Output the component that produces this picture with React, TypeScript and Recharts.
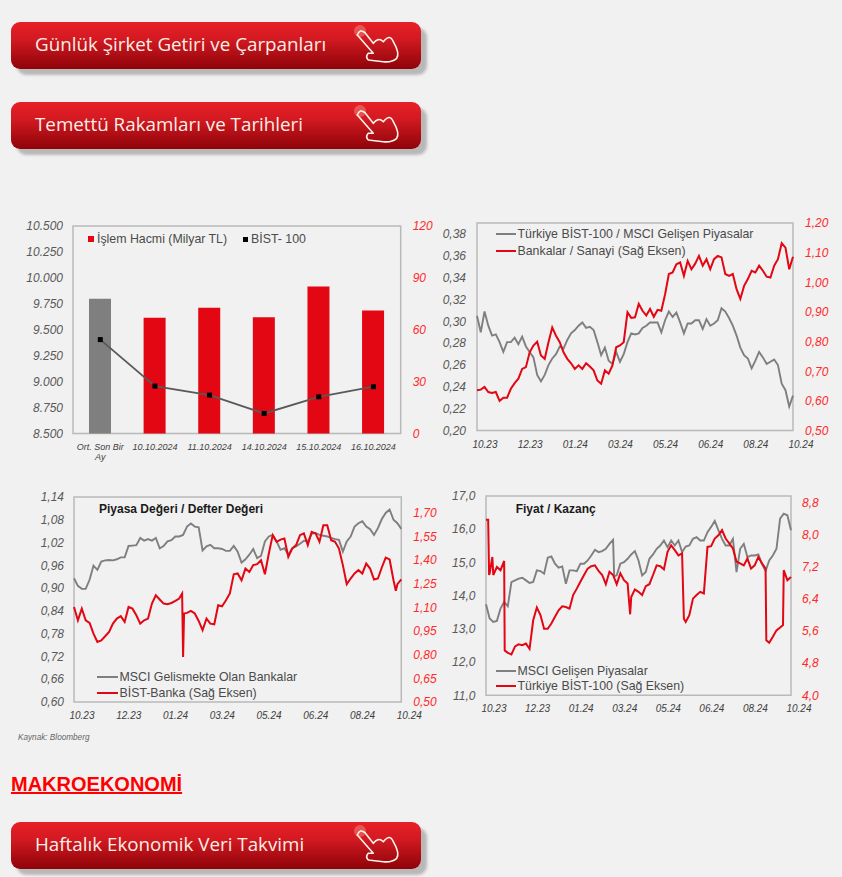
import { Bar, Cell, ComposedChart, Line, LineChart, ReferenceArea, XAxis, YAxis } from "recharts"

const ARIAL = "'Liberation Sans', Arial, sans-serif"
const GREY = "#7f7f7f"
const RED = "#e30613"
const TICK_RED = "#ff2a2a"
const TEXT = "#4a4a4a"
const FRAME = "#b9b9b9"

/* ── Data ── */
const volumeDays = ["Ort. Son Bir Ay", "10.10.2024", "11.10.2024", "14.10.2024", "15.10.2024", "16.10.2024"]
const volume = [77.9, 66.9, 72.7, 67.2, 85.0, 71.1]
const bist100 = [9405, 8957, 8870, 8693, 8854, 8951]
const volumeLeftTicks = [8500, 8750, 9000, 9250, 9500, 9750, 10000, 10250, 10500]
const volumeRightTicks = [0, 30, 60, 90, 120]

const months = ["10.23", "12.23", "01.24", "03.24", "05.24", "06.24", "08.24", "10.24"]
const monthTicks = [0, 12, 24, 36, 48, 60, 72, 84]

const ratioBist = [
  0.305, 0.290, 0.309, 0.296, 0.287, 0.288, 0.281, 0.272, 0.281, 0.281, 0.285, 0.279, 0.286, 0.277, 0.272,
  0.267, 0.251, 0.245, 0.251, 0.260, 0.266, 0.270, 0.277, 0.275, 0.283, 0.289, 0.292, 0.296, 0.299, 0.294,
  0.295, 0.292, 0.281, 0.269, 0.276, 0.264, 0.261, 0.272, 0.263, 0.270, 0.281, 0.289, 0.288, 0.289, 0.294,
  0.296, 0.299, 0.299, 0.299, 0.290, 0.301, 0.309, 0.304, 0.308, 0.299, 0.289, 0.298, 0.298, 0.301, 0.301,
  0.293, 0.302, 0.296, 0.298, 0.301, 0.312, 0.309, 0.303, 0.296, 0.287, 0.276, 0.269, 0.266, 0.257, 0.264,
  0.272, 0.267, 0.261, 0.263, 0.265, 0.260, 0.243, 0.237, 0.222, 0.232,
]
const ratioBanks = [
  0.636, 0.638, 0.647, 0.630, 0.627, 0.630, 0.600, 0.611, 0.611, 0.641, 0.660, 0.675, 0.708, 0.714, 0.764,
  0.787, 0.800, 0.753, 0.742, 0.798, 0.848, 0.820, 0.798, 0.764, 0.742, 0.727, 0.708, 0.720, 0.708, 0.727,
  0.716, 0.703, 0.669, 0.658, 0.703, 0.692, 0.720, 0.781, 0.787, 0.798, 0.899, 0.880, 0.882, 0.927, 0.904,
  0.888, 0.910, 0.884, 0.907, 0.904, 0.960, 1.028, 1.033, 1.061, 1.067, 1.022, 1.072, 1.044, 1.063, 1.089,
  1.056, 1.078, 1.044, 1.078, 1.089, 1.084, 1.028, 1.022, 1.028, 0.977, 0.944, 0.988, 1.011, 1.039, 1.033,
  1.056, 1.039, 1.019, 1.016, 1.056, 1.078, 1.132, 1.117, 1.044, 1.086,
]

const pbMsci = [
  0.926, 0.906, 0.898, 0.898, 0.922, 0.959, 0.948, 0.970, 0.973, 0.974, 0.973, 0.976, 0.981, 0.981, 1.011,
  1.012, 1.013, 1.032, 1.025, 1.029, 1.025, 1.032, 1.005, 1.011, 1.023, 1.026, 1.036, 1.036, 1.040, 1.062,
  1.070, 1.062, 1.060, 0.999, 1.010, 1.014, 1.005, 1.005, 1.003, 0.998, 0.998, 1.011, 0.996, 0.967, 0.976,
  0.988, 1.003, 0.979, 0.985, 1.023, 1.036, 1.040, 1.023, 1.001, 1.005, 0.988, 1.005, 1.010, 1.017, 1.025,
  1.023, 1.043, 1.045, 1.040, 1.038, 1.036, 1.032, 1.029, 1.027, 0.996, 1.023, 1.036, 1.062, 1.071, 1.076,
  1.062, 1.055, 1.040, 1.058, 1.082, 1.098, 1.107, 1.080, 1.071, 1.056,
]
const pbBanks = [
  1.103, 1.018, 1.092, 1.018, 1.001, 0.934, 0.881, 0.891, 0.917, 0.944, 0.997, 1.029, 1.044, 1.008, 1.103,
  1.092, 1.050, 0.997, 1.018, 1.029, 1.124, 1.177, 1.150, 1.124, 1.120, 1.128, 1.141, 1.156, 0.786, 1.065,
  1.078, 1.061, 1.014, 0.955, 1.029, 0.997, 0.993, 1.114, 1.107, 1.145, 1.188, 1.310, 1.315, 1.272, 1.346,
  1.325, 1.368, 1.374, 1.399, 1.310, 1.442, 1.558, 1.516, 1.530, 1.537, 1.420, 1.473, 1.495, 1.558, 1.569,
  1.495, 1.579, 1.569, 1.516, 1.621, 1.621, 1.526, 1.516, 1.473, 1.368, 1.247, 1.283, 1.315, 1.336, 1.315,
  1.378, 1.346, 1.277, 1.283, 1.353, 1.416, 1.404, 1.272, 1.247, 1.277,
]
const pbBanksExtra: [number, number][] = [[27.75, 1.188], [28.25, 1.061], [82.6, 1.205]]

const peMsci = [
  13.74, 13.31, 13.21, 13.24, 13.61, 13.81, 13.68, 14.41, 14.46, 14.51, 14.54, 14.46, 14.38, 14.41, 14.76,
  14.74, 14.66, 15.14, 15.18, 14.96, 14.84, 14.88, 14.36, 14.76, 14.76, 14.74, 14.96, 14.96, 15.06, 15.21,
  15.38, 15.31, 15.34, 15.41, 15.56, 15.68, 14.61, 14.96, 15.01, 15.11, 15.24, 15.34, 15.06, 14.61, 14.71,
  15.11, 15.24, 15.41, 15.51, 15.66, 15.46, 15.66, 15.51, 15.66, 15.31, 15.48, 15.51, 15.71, 15.76, 15.66,
  15.66, 15.91, 16.07, 16.25, 15.97, 15.71, 15.51, 15.51, 15.71, 14.71, 15.41, 15.56, 15.16, 15.21, 15.21,
  15.24, 14.96, 14.74, 15.06, 15.21, 15.41, 16.32, 16.47, 16.42, 15.97,
]
const peMsciExtra: [number, number][] = [[35.3, 14.58]]
const peBist = [
  8.38, 7.04, 7.00, 7.20, 7.12, 7.35, 5.06, 5.02, 5.22, 5.27, 5.25, 5.29, 5.16, 5.87, 6.19,
  6.00, 5.66, 5.66, 5.79, 5.96, 6.12, 6.22, 6.20, 6.16, 6.50, 6.66, 6.83, 7.00, 7.16, 7.22,
  7.24, 7.10, 7.00, 6.77, 7.08, 7.00, 6.77, 7.04, 6.87, 6.79, 6.45, 6.64, 6.58, 6.50, 6.72,
  6.77, 7.00, 7.24, 7.22, 7.14, 7.58, 7.74, 7.62, 7.49, 7.54, 5.83, 6.00, 6.41, 6.50, 6.58,
  6.54, 7.70, 7.72, 7.91, 7.99, 8.12, 7.91, 7.79, 7.66, 7.33, 7.29, 7.24, 7.41, 7.16, 7.24,
  7.45, 7.29, 7.16, 5.31, 5.46, 5.62, 5.69, 7.12, 6.87, 6.95,
]
const peBistExtra: [number, number][] = [
  [0.6, 8.38], [0.85, 7.00], [1.75, 7.45], [5.15, 5.12], [39.7, 6.02], [54.5, 5.91], [77.2, 5.37], [81.8, 5.75],
]

const ratioLeftTicks = [0.20, 0.22, 0.24, 0.26, 0.28, 0.30, 0.32, 0.34, 0.36, 0.38]
const ratioRightTicks = [0.50, 0.60, 0.70, 0.80, 0.90, 1.00, 1.10, 1.20]
const pbLeftTicks = [0.60, 0.66, 0.72, 0.78, 0.84, 0.90, 0.96, 1.02, 1.08, 1.14]
const pbRightTicks = [0.50, 0.65, 0.80, 0.95, 1.10, 1.25, 1.40, 1.55, 1.70]
const peLeftTicks = [11, 12, 13, 14, 15, 16, 17]
const peRightTicks = [4.0, 4.8, 5.6, 6.4, 7.2, 8.0, 8.8]

const buttons = [
  { top: 22, label: "Günlük Şirket Getiri ve Çarpanları" },
  { top: 102, label: "Temettü Rakamları ve Tarihleri" },
  { top: 822, label: "Haftalık Ekonomik Veri Takvimi" },
]

/* ── Helpers ── */
function mergeRows(left: number[], right: number[], leftExtra: [number, number][] = [], rightExtra: [number, number][] = []) {
  const rows: { i: number; left?: number; right?: number }[] = left.map((v, i) => ({ i, left: v, right: right[i] }))
  leftExtra.forEach(([i, v]) => rows.push({ i, left: v }))
  rightExtra.forEach(([i, v]) => rows.push({ i, right: v }))
  return rows.sort((a, b) => a.i - b.i)
}

const comma = (d: number) => (v: number) => v.toFixed(d).replace(".", ",")
const thousands = (v: number) => `${Math.floor(v / 1000) ? Math.floor(v / 1000) + "." : ""}${String(v % 1000).padStart(3, "0")}`

const leftTick = { fontSize: 12, fontStyle: "italic", fill: "#595959", fontFamily: ARIAL }
const rightTick = { fontSize: 12, fontStyle: "italic", fill: TICK_RED, fontFamily: ARIAL }

function MonthTick({ x, y, payload }: any) {
  return (
    <text x={x + 8} y={y + 9} textAnchor="middle" fontSize={10} fontStyle="italic" fill="#404040" fontFamily={ARIAL}>
      {months[monthTicks.indexOf(payload.value)]}
    </text>
  )
}

function DayTick({ x, y, payload }: any) {
  const lines = payload.value.startsWith("Ort") ? ["Ort. Son Bir", "Ay"] : [payload.value]
  return (
    <text x={x} y={y + 9} textAnchor="middle" fontSize={9} fontStyle="italic" fill="#404040" fontFamily={ARIAL}>
      {lines.map((l: string, n: number) => (
        <tspan key={l} x={x} dy={n ? 10 : 0}>{l}</tspan>
      ))}
    </text>
  )
}

function SquareDot({ cx, cy }: any) {
  return <rect x={cx - 2.5} y={cy - 2.5} width={5} height={5} fill="#000" />
}

function LegendLine({ x, y, width, color, label }: { x: number; y: number; width: number; color: string; label: string }) {
  return (
    <>
      <div style={{ position: "absolute", left: x, top: y - 1, width, height: 2, background: color }} />
      <div style={{ position: "absolute", left: x + width + 1.5, top: y - 8, fontSize: 12.35, lineHeight: "16px", color: TEXT, fontFamily: ARIAL, whiteSpace: "nowrap" }}>
        {label}
      </div>
    </>
  )
}

function Title({ x, y, text }: { x: number; y: number; text: string }) {
  return (
    <div style={{ position: "absolute", left: x, top: y - 8, fontSize: 12, lineHeight: "16px", fontWeight: 700, color: "#1a1a1a", fontFamily: ARIAL, whiteSpace: "nowrap" }}>
      {text}
    </div>
  )
}

/* ── Time-series panel ── */
function SeriesPanel({ box, left, right, leftDomain, rightDomain, leftTicks, rightTicks, leftFmt, rows }: any) {
  const leftW = 60, rightW = 45, topM = 10, axisH = 30
  const plotW = box.right - box.left, plotH = box.bottom - box.top
  return (
    <div style={{ position: "absolute", left: box.left - leftW, top: box.top - topM }}>
      <LineChart width={plotW + leftW + rightW} height={plotH + topM + axisH} data={rows} margin={{ top: topM, right: 0, bottom: 0, left: 0 }}>
        <XAxis dataKey="i" type="number" domain={[0, 84]} ticks={monthTicks} interval={0} height={axisH} axisLine={false} tickLine={false} tick={<MonthTick />} />
        <YAxis yAxisId="l" width={leftW} domain={leftDomain} ticks={leftTicks} interval={0} tickFormatter={leftFmt} axisLine={false} tickLine={false} tickSize={0} tickMargin={left} tick={leftTick} allowDataOverflow />
        <YAxis yAxisId="r" orientation="right" width={rightW} domain={rightDomain} ticks={rightTicks} interval={0} tickFormatter={comma(rightTicks[0] === 4 ? 1 : 2)} axisLine={false} tickLine={false} tickSize={0} tickMargin={right} tick={rightTick} allowDataOverflow />
        <ReferenceArea yAxisId="l" y1={leftDomain[0]} y2={leftDomain[1]} fill="none" stroke={FRAME} strokeWidth={1.5} />
        <Line yAxisId="l" dataKey="left" stroke={GREY} strokeWidth={1.9} dot={false} connectNulls isAnimationActive={false} />
        <Line yAxisId="r" dataKey="right" stroke={RED} strokeWidth={2} dot={false} connectNulls isAnimationActive={false} />
      </LineChart>
    </div>
  )
}

/* ── Volume panel ── */
function VolumePanel() {
  const rows = volumeDays.map((day, n) => ({ day, volume: volume[n], bist: bist100[n] }))
  const box = { left: 73.3, right: 401, top: 225.5, bottom: 433 }
  const leftW = 60, rightW = 45, topM = 10, axisH = 35
  return (
    <div style={{ position: "absolute", left: box.left - leftW, top: box.top - topM }}>
      <ComposedChart width={box.right - box.left + leftW + rightW} height={box.bottom - box.top + topM + axisH} data={rows} margin={{ top: topM, right: 0, bottom: 0, left: 0 }} barCategoryGap="60%">
        <XAxis dataKey="day" height={axisH} interval={0} axisLine={false} tickLine={false} tick={<DayTick />} />
        <YAxis yAxisId="l" width={leftW} domain={[8500, 10500]} ticks={volumeLeftTicks} interval={0} tickFormatter={thousands} axisLine={false} tickLine={false} tickSize={0} tickMargin={10} tick={leftTick} />
        <YAxis yAxisId="r" orientation="right" width={rightW} domain={[0, 120]} ticks={volumeRightTicks} interval={0} axisLine={false} tickLine={false} tickSize={0} tickMargin={12} tick={rightTick} />
        <ReferenceArea yAxisId="l" y1={8500} y2={10500} fill="none" stroke={FRAME} strokeWidth={1.5} />
        <Bar yAxisId="r" dataKey="volume" barSize={22} isAnimationActive={false}>
          {rows.map((r, n) => (
            <Cell key={r.day} fill={n === 0 ? GREY : RED} />
          ))}
        </Bar>
        <Line yAxisId="l" dataKey="bist" stroke="#595959" strokeWidth={1.8} dot={<SquareDot />} isAnimationActive={false} />
      </ComposedChart>
    </div>
  )
}

/* ── Red link buttons ── */
function LinkButton({ top, label }: { top: number; label: string }) {
  return (
    <div
      style={{
        position: "absolute", left: 11, top, width: 410, height: 47, borderRadius: 9,
        background: "linear-gradient(#e81f27 0%, #d41a22 35%, #8e0309 100%)",
        boxShadow: "6px 6px 3px #b8b8b8",
      }}
    >
      <div style={{ position: "absolute", left: 24, top: 10, fontFamily: "'Open Sans', sans-serif", fontSize: 18.8, lineHeight: "24px", color: "#fbeee6", fontWeight: 500, whiteSpace: "nowrap" }}>
        {label}
      </div>
      <svg width={410} height={47} style={{ position: "absolute", left: 0, top: 0 }}>
        <circle cx={349} cy={9} r={6} fill="#f6a98f" opacity={0.4} />
        <path
          d="M346.3 13 Q349 6.3 354 10.7 L362.3 21.3 Q367.3 14.7 372.3 19.7 Q379 11.3 382.3 19.7 Q389 31.3 385.7 36.3 Q380.7 40.7 372.3 39.7 L357.3 38 Q354 34.7 357.3 31.3 L362.3 31.3 Z"
          fill="none" stroke="#fdf3ea" strokeWidth={1.6} strokeLinejoin="round"
        />
      </svg>
    </div>
  )
}

export default function App() {
  return (
    <div style={{ position: "absolute", left: 0, top: 0, width: 842, height: 877, overflow: "hidden", background: "#f1f1f1" }}>
      {buttons.map((b) => (
        <LinkButton key={b.top} {...b} />
      ))}

      <VolumePanel />
      <div style={{ position: "absolute", left: 88, top: 236, width: 6, height: 6, background: RED }} />
      <div style={{ position: "absolute", left: 97, top: 231, fontSize: 12.35, lineHeight: "16px", color: TEXT, fontFamily: ARIAL, whiteSpace: "nowrap" }}>İşlem Hacmi (Milyar TL)</div>
      <div style={{ position: "absolute", left: 243, top: 236.5, width: 5, height: 5, background: "#000" }} />
      <div style={{ position: "absolute", left: 251, top: 231, fontSize: 12.35, lineHeight: "16px", color: TEXT, fontFamily: ARIAL, whiteSpace: "nowrap" }}>BİST- 100</div>

      <SeriesPanel
        box={{ left: 477, right: 793, top: 222.7, bottom: 430.3 }}
        left={11} right={12}
        leftDomain={[0.2, 0.39]} rightDomain={[0.5, 1.2]}
        leftTicks={ratioLeftTicks} rightTicks={ratioRightTicks}
        leftFmt={comma(2)}
        rows={mergeRows(ratioBist, ratioBanks)}
      />
      <LegendLine x={496} y={234.3} width={20} color={GREY} label="Türkiye BİST-100 / MSCI Gelişen Piyasalar" />
      <LegendLine x={496} y={250.7} width={20} color={RED} label="Bankalar / Sanayi (Sağ Eksen)" />

      <SeriesPanel
        box={{ left: 73.7, right: 401, top: 496.7, bottom: 701.7 }}
        left={10} right={12}
        leftDomain={[0.6, 1.14]} rightDomain={[0.5, 1.8]}
        leftTicks={pbLeftTicks} rightTicks={pbRightTicks}
        leftFmt={comma(2)}
        rows={mergeRows(pbMsci, pbBanks, [], pbBanksExtra)}
      />
      <Title x={99} y={509} text="Piyasa Değeri / Defter Değeri" />
      <LegendLine x={97} y={676.7} width={21} color={GREY} label="MSCI Gelismekte Olan Bankalar" />
      <LegendLine x={97} y={693} width={21} color={RED} label="BİST-Banka (Sağ Eksen)" />

      <SeriesPanel
        box={{ left: 486.3, right: 791.3, top: 495.7, bottom: 695 }}
        left={10.6} right={11}
        leftDomain={[11, 17]} rightDomain={[4, 8.97]}
        leftTicks={peLeftTicks} rightTicks={peRightTicks}
        leftFmt={comma(1)}
        rows={mergeRows(peMsci, peBist, peMsciExtra, peBistExtra)}
      />
      <Title x={515.7} y={509} text="Fiyat / Kazanç" />
      <LegendLine x={496} y={670.7} width={20} color={GREY} label="MSCI Gelişen Piyasalar" />
      <LegendLine x={496} y={686} width={20} color={RED} label="Türkiye BİST-100 (Sağ Eksen)" />

      <div style={{ position: "absolute", left: 18, top: 733, fontSize: 8.2, lineHeight: "10px", fontStyle: "italic", color: "#666", fontFamily: ARIAL }}>Kaynak: Bloomberg</div>
      <div style={{ position: "absolute", left: 11, top: 772, fontSize: 20, lineHeight: "24px", fontWeight: 700, color: "#ff0000", textDecoration: "underline", fontFamily: ARIAL }}>MAKROEKONOMİ</div>
    </div>
  )
}
